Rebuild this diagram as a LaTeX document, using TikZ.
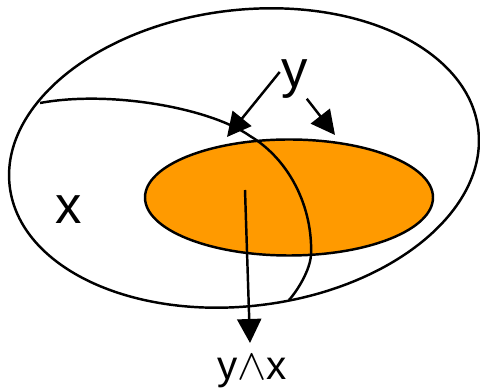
\documentclass[tikz,border=0pt]{standalone}
\usepackage{fontspec}
\setmainfont{Liberation Sans}
\usepackage{xcolor}
\usetikzlibrary{arrows.meta, positioning}
\definecolor{setorange}{HTML}{FF9A00}

\begin{document}
\begin{tikzpicture}[x=0.02cm, y=0.02cm,
    setline/.style={draw=black, line width=1.4pt},
    arr/.style={line width=1.4pt, -{Triangle[length=0.48cm, width=0.48cm]}},
    biglab/.style={inner sep=0pt, font=\fontsize{30}{32}\selectfont},
    smalllab/.style={inner sep=0pt, font=\fontsize{23}{25}\selectfont}]
    \useasboundingbox (0,0) rectangle (480,388);

    % outer set
    \draw[setline, rotate around={7:(244,230)}] (244,230) ellipse [x radius=236, y radius=148];

    % intersection y and x
    \draw[setline, fill=setorange] (289,190.5) ellipse [x radius=144, y radius=58];

    % boundary of x
    \draw[setline] (40,285) .. controls (110,298) and (210,280) .. (250,252)
        .. controls (290,228) and (313,180) .. (311,133)
        .. controls (310,118) and (298,98) .. (289,88);

    % labels
    \node[biglab] (ylab) at (295,309) {y};
    \node[biglab] (xlab) at (69,178) {x};
    \node[smalllab] (yxlab) at (252,16) {y$\wedge$x};

    % arrows
    \coordinate (tipA) at (227,251);
    \coordinate (tipB) at (335,253);
    \coordinate (meet) at (245,198);
    \coordinate (tipC) at (250,45);
    \draw[arr] ([xshift=-1pt, yshift=4pt]ylab.west) -- (tipA);
    \draw[arr] ([xshift=-1pt]ylab.south east) -- (tipB);
    \draw[arr] (meet) -- (tipC);
\end{tikzpicture}
\end{document}
